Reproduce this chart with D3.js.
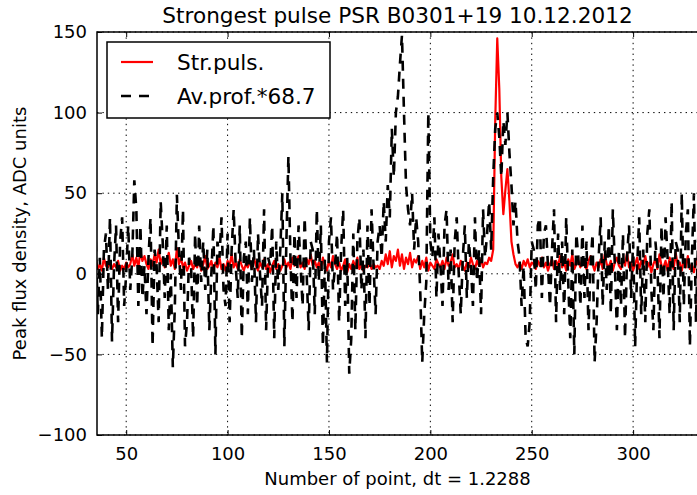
<!DOCTYPE html>
<html lang="en">
<head>
    <meta charset="UTF-8">
    <title>Strongest pulse PSR B0301+19 10.12.2012</title>
    <script src="https://d3js.org/d3.v7.min.js"></script>
    <style>
        body { margin: 0; background: #fff; }
        svg { display: block; font-family: "DejaVu Sans", sans-serif; }
    </style>
</head>
<body>
    <svg width="697" height="495"></svg>
    <script>
        // number of the first point in both series
        const firstPoint = 35;

        // strongest single pulse
        const strPulse = [
            8, 3, 6, 2, 10, 5, 4, 7, 3, 6,
            4, 8, 2, 5, 3, 7, 4, 6, 12, 5,
            10, 4, 14, 8, 11, 6, 3, 9, 5, 12,
            7, 15, 6, 10, 4, 8, 13, 5, 9, 3,
            16, 6, 10, 4, 7, 2, 5, 8, 3, 6,
            4, 9, 2, 6, 11, 3, 5, 8, 2, 7,
            4, 10, 3, 6, 2, 8, 5, 12, 4, 7,
            3, 9, 5, 2, 6, 4, 8, 3, 10, 5,
            2, 7, 4, 9, 3, 6, 1, 5, 8, 3,
            6, 2, 5, 9, 4, 7, 3, 10, 5, 8,
            11, 4, 7, 3, 9, 6, 12, 5, 8, 4,
            7, 3, 10, 5, 2, 8, 4, 11, 6, 3,
            7, 2, 5, 9, 1, 6, 3, 8, 4, 10,
            3, 6, 2, 5, 4, 7, 3, 6, 4, 5,
            3, 8, 5, 12, 6, 14, 4, 11, 8, 15,
            5, 12, 3, 10, 6, 13, 4, 9, 7, 11,
            3, 8, 4, 10, 2, 7, 5, 3, 9, 6,
            4, 8, 3, 10, 5, 7, 12, 4, 6, 3,
            8, 5, 2, 7, 4, 10, 6, 3, 8, 5,
            9, 4, 7, 6, 10, 8, 15, 95, 146, 115,
            60, 37, 52, 65, 45, 20, 12, 6, 4, 7,
            3, 8, 5, 9, 4, 7, 6, 3, 8, 5,
            10, 4, 7, 2, 6, 9, 3, 8, 5, 11,
            4, 7, 2, 9, 5, 12, 3, 6, 8, 4,
            10, 5, 3, 8, 11, 6, 2, 7, 4, 9,
            3, 12, 6, 4, 8, 2, 7, 10, 5, 3,
            9, 5, 13, 4, 7, 2, 6, 10, 3, 8,
            5, 11, 4, 7, 1, 6, 9, 3, 12, 5,
            4, 8, 2, 10, 6, 3, 13, 5, 7, 2,
            9, 4, 11, 3, 6, 1, 8, 5, 10
        ];

        // average profile scaled by 68.7
        const avProfile = [
            20, -25, 10, -40, 15, 25, -10, 35, -42, 5,
            30, -30, 20, 35, -20, 0, 30, -10, 10, 58,
            40, -20, 30, -15, 5, -25, 10, 35, -45, 15,
            5, -30, 45, 20, -15, 30, -35, 0, -58, -20,
            49, 15, -10, 40, -45, -30, 10, 5, -40, 25,
            -20, 30, -5, 20, -10, 15, -35, 0, 30, -50,
            20, 10, 35, -10, -20, 25, -30, 15, 40, 5,
            -15, 30, -40, 10, 20, -25, 35, -5, 15, -30,
            25, 0, -20, 40, -35, 10, 5, 30, -40, 20,
            -10, 15, 50, -45, 20, 73, 10, -30, 25, -15,
            30, 5, -20, 35, 0, -35, 20, 15, -25, 40,
            -5, 30, -45, 10, -55, 20, 35, -10, 5, 25,
            -30, 15, 40, -20, 10, -62, -40, 25, -35, 20,
            35, -10, 15, -40, 30, -20, 40, 5, -25, 20,
            30, 10, 45, 20, 55, 35, 90, 60, 100, 110,
            130, 148, 100, 55, 40, 30, 50, 15, 35, 20,
            -10, -55, -25, -5, 100, 20, 10, 35, -15, 25,
            5, -20, 30, 40, -10, 15, -30, 20, 35, 0,
            -25, 10, 30, -15, 20, 5, -20, 35, -5, 15,
            -25, 40, 10, 25, 45, 15, 60, 90, 100, 85,
            60, 95, 80, 100, 75, 55, 30, 45, 20, 10,
            -20, 5, -40, -45, -30, 20, 15, -10, 30, 35,
            -15, 25, 30, 5, -20, 15, 40, -30, 25, -10,
            20, -25, 35, -5, -40, 15, -50, 25, 10, -20,
            30, -15, 20, -35, 5, 25, -55, -30, 10, 35,
            -20, 20, -10, 30, -25, 40, 5, -35, 15, -20,
            25, -40, 10, 30, -15, 20, -45, 5, 35, -25,
            15, -30, 25, 40, -10, -35, 20, 5, -40, 30,
            -15, 35, 10, -25, 45, -35, 20, 15, -30, 50,
            -20, 25, 40, -45, 10, 50, -30, 20, 35
        ];

        const xTicks = [50, 100, 150, 200, 250, 300];
        const yTicks = [-100, -50, 0, 50, 100, 150];
        const legendLabels = ['Str.puls.', 'Av.prof.*68.7'];

        const svg = d3.select('svg');
        const margin = { top: 32, right: -1, bottom: 60, left: 97 };
        const width = 697;
        const height = 495;

        const x = d3.scaleLinear()
            .domain([35.6, 332])
            .range([margin.left, width - margin.right]);
        const y = d3.scaleLinear()
            .domain([-100, 150])
            .range([height - margin.bottom, margin.top]);

        const plotW = width - margin.right - margin.left;
        const plotH = height - margin.bottom - margin.top;

        svg.append('clipPath').attr('id', 'clip')
            .append('rect')
            .attr('x', margin.left).attr('y', margin.top)
            .attr('width', plotW).attr('height', plotH);

        // grid
        const grid = svg.append('g')
            .attr('stroke', '#000')
            .attr('stroke-width', 1)
            .attr('stroke-dasharray', '1.4,4');
        grid.selectAll('.gx').data(xTicks).enter().append('line')
            .attr('x1', d => x(d)).attr('x2', d => x(d))
            .attr('y1', margin.top).attr('y2', height - margin.bottom);
        grid.selectAll('.gy').data(yTicks).enter().append('line')
            .attr('x1', margin.left).attr('x2', width - margin.right)
            .attr('y1', d => y(d)).attr('y2', d => y(d));

        // series
        const line = d3.line()
            .x((d, i) => x(firstPoint + i))
            .y(d => y(d));

        const plot = svg.append('g').attr('clip-path', 'url(#clip)');
        plot.append('path')
            .datum(strPulse)
            .attr('d', line)
            .attr('fill', 'none')
            .attr('stroke', '#ff0000')
            .attr('stroke-width', 2.2)
            .attr('stroke-linejoin', 'round');
        plot.append('path')
            .datum(avProfile)
            .attr('d', line)
            .attr('fill', 'none')
            .attr('stroke', '#000')
            .attr('stroke-width', 2.6)
            .attr('stroke-dasharray', '10,8');

        // axes with inward ticks, matplotlib classic look
        const xAxisB = d3.axisBottom(x).tickValues(xTicks).tickSizeInner(-5).tickSizeOuter(0).tickPadding(12);
        const xAxisT = d3.axisTop(x).tickValues(xTicks).tickSizeInner(-5).tickSizeOuter(0).tickFormat('');
        const yAxisL = d3.axisLeft(y).tickValues(yTicks).tickSizeInner(-5).tickSizeOuter(0).tickPadding(10)
            .tickFormat(d => d < 0 ? '\u2212' + Math.abs(d) : d);

        svg.append('g').attr('transform', `translate(0,${height - margin.bottom})`).call(xAxisB);
        svg.append('g').attr('transform', `translate(0,${margin.top})`).call(xAxisT);
        svg.append('g').attr('transform', `translate(${margin.left},0)`).call(yAxisL);

        svg.selectAll('.domain').remove();
        svg.selectAll('.tick line').attr('stroke', '#000').attr('stroke-width', 1);
        svg.selectAll('.tick text')
            .attr('font-family', '"DejaVu Sans", sans-serif')
            .attr('font-size', 18)
            .attr('fill', '#000');

        // frame
        svg.append('rect')
            .attr('x', margin.left).attr('y', margin.top)
            .attr('width', plotW).attr('height', plotH)
            .attr('fill', 'none').attr('stroke', '#000').attr('stroke-width', 1.5);

        // title and labels
        svg.append('text')
            .attr('x', margin.left + plotW / 2).attr('y', 23)
            .attr('text-anchor', 'middle').attr('font-size', 21.6)
            .text('Strongest pulse PSR B0301+19 10.12.2012');
        svg.append('text')
            .attr('x', margin.left + plotW / 2).attr('y', 485)
            .attr('text-anchor', 'middle').attr('font-size', 18)
            .text('Number of point, dt = 1.2288');
        svg.append('text')
            .attr('transform', `translate(26,${margin.top + plotH / 2}) rotate(-90)`)
            .attr('text-anchor', 'middle').attr('font-size', 18)
            .text('Peak flux density, ADC units');

        // legend
        const lg = svg.append('g').attr('transform', 'translate(107,42)');
        lg.append('rect')
            .attr('width', 223).attr('height', 76)
            .attr('fill', '#fff').attr('stroke', '#000').attr('stroke-width', 1.5);
        const styles = [
            { stroke: '#ff0000', dash: null, w: 2.2 },
            { stroke: '#000', dash: '10,8', w: 2.6 }
        ];
        legendLabels.forEach((label, i) => {
            const yy = 20 + i * 34;
            lg.append('line')
                .attr('x1', 14).attr('x2', 46).attr('y1', yy).attr('y2', yy)
                .attr('stroke', styles[i].stroke)
                .attr('stroke-width', styles[i].w)
                .attr('stroke-dasharray', styles[i].dash);
            lg.append('text')
                .attr('x', 70).attr('y', yy + 8)
                .attr('font-size', 21.6)
                .text(label);
        });
    </script>
</body>
</html>
